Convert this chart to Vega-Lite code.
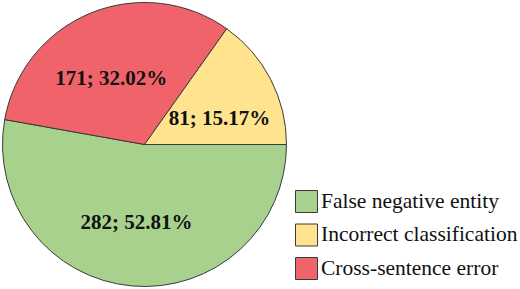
{
  "$schema": "https://vega.github.io/schema/vega-lite/v6.json",
  "width": 289,
  "height": 289,
  "padding": 0,
  "background": "white",
  "data": {
    "values": [
      {"category": "False negative entity", "count": 282, "label": "282; 52.81%", "order": 1},
      {"category": "Cross-sentence error", "count": 171, "label": "171; 32.02%", "order": 2},
      {"category": "Incorrect classification", "count": 81, "label": "81; 15.17%", "order": 3}
    ]
  },
  "encoding": {
    "theta": {"field": "count", "type": "quantitative", "stack": true, "scale": {"range": [1.5708, 7.8540]}},
    "order": {"field": "order", "type": "quantitative"}
  },
  "layer": [
    {
      "mark": {"type": "arc", "outerRadius": 142, "stroke": "#3a3a3a", "strokeWidth": 1},
      "encoding": {
        "fill": {
          "field": "category",
          "type": "nominal",
          "scale": {
            "domain": ["False negative entity", "Incorrect classification", "Cross-sentence error"],
            "range": ["#a9d18e", "#ffe38f", "#f0636a"]
          },
          "legend": {
            "title": null,
            "orient": "none",
            "legendX": 295,
            "legendY": 190,
            "padding": 0,
            "symbolType": "square",
            "symbolSize": 484,
            "symbolStrokeColor": "#3a3a3a",
            "symbolStrokeWidth": 1,
            "symbolOpacity": 1,
            "labelFont": "Liberation Serif, Times New Roman, serif",
            "labelFontSize": 21.5,
            "labelColor": "#111111",
            "labelOffset": 3,
            "labelLimit": 300,
            "rowPadding": 6.5
          }
        }
      }
    },
    {
      "mark": {"type": "text", "radius": 80, "dx": -1, "dy": -1, "font": "Liberation Serif, Times New Roman, serif", "fontSize": 21, "fontWeight": "bold", "color": "#111111"},
      "encoding": {
        "text": {"field": "label", "type": "nominal"},
        "opacity": {"condition": {"test": "datum.order == 1", "value": 1}, "value": 0}
      }
    },
    {
      "mark": {"type": "text", "radius": 80, "dx": -3, "dy": 9, "font": "Liberation Serif, Times New Roman, serif", "fontSize": 21, "fontWeight": "bold", "color": "#111111"},
      "encoding": {
        "text": {"field": "label", "type": "nominal"},
        "opacity": {"condition": {"test": "datum.order == 2", "value": 1}, "value": 0}
      }
    },
    {
      "mark": {"type": "text", "radius": 80, "dx": 4, "dy": 11, "font": "Liberation Serif, Times New Roman, serif", "fontSize": 21, "fontWeight": "bold", "color": "#111111"},
      "encoding": {
        "text": {"field": "label", "type": "nominal"},
        "opacity": {"condition": {"test": "datum.order == 3", "value": 1}, "value": 0}
      }
    }
  ]
}
